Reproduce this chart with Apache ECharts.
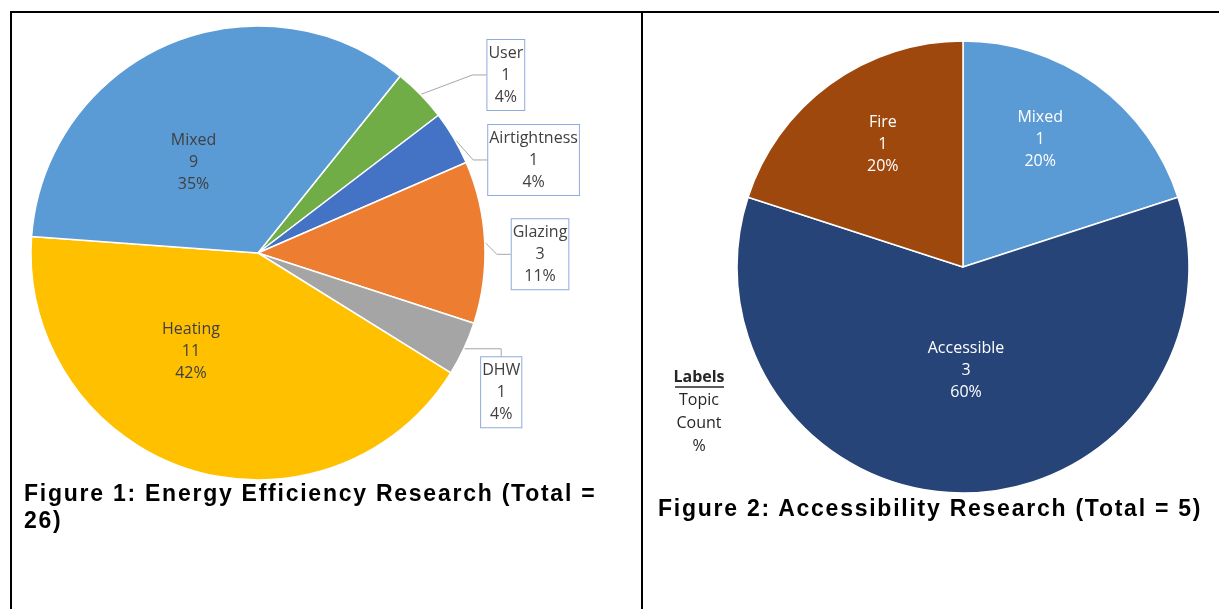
<!DOCTYPE html>
<html lang="en">
<head>
<meta charset="utf-8">
<style>
  body { margin: 0; background: #fff; width: 1219px; height: 609px; overflow: hidden; position: relative; }
  #container { position: absolute; left: 0; top: 0; width: 1219px; height: 609px; }
  .rule { position: absolute; background: #000; }
  .cap { position: absolute; font-family: "Liberation Sans", Arial, sans-serif; font-weight: bold;
         font-size: 23px; letter-spacing: 1.75px; line-height: 27px; color: #000; }
</style>
</head>
<body>
<div id="container"></div>
<div class="rule" style="left:10px; top:11px; width:1209px; height:2px"></div>
<div class="rule" style="left:10px; top:11px; width:2px; height:598px"></div>
<div class="rule" style="left:641px; top:11px; width:2px; height:598px"></div>
<div class="cap" style="left:24px; top:480px; width:610px">Figure 1: Energy Efficiency Research (Total = 26)</div>
<div class="cap" style="left:658px; top:495px; width:561px; white-space:nowrap">Figure 2: Accessibility Research (Total = 5)</div>
<script src="https://cdn.jsdelivr.net/npm/echarts@6/dist/echarts.min.js"></script>
<script>
// Figure 1: energy efficiency topics (clockwise from the User slice)
var energyTopics = ['User', 'Airtightness', 'Glazing', 'DHW', 'Heating', 'Mixed'];
var energyCounts = [1, 1, 3, 1, 11, 9];
var energyColors = ['#70AD47', '#4472C4', '#ED7D31', '#A5A5A5', '#FFC000', '#5B9BD5'];
var energyInside = ['Heating', 'Mixed'];

// Figure 2: accessibility topics (clockwise from 12 o'clock)
var accessTopics = ['Mixed', 'Accessible', 'Fire'];
var accessCounts = [1, 3, 1];
var accessColors = ['#5B9BD5', '#264478', '#9E480E'];

var legendLines = ['Labels', 'Topic', 'Count', '%'];

// label nudges (px) so the text sits where the original placed it
var energyNudge = {
  User: [36, -7], Airtightness: [-9, 4], Glazing: [-4, 13], DHW: [-17, 36],
  Heating: [-31, -12], Mixed: [-18, 16]
};
var accessNudge = { Mixed: [9, -34], Accessible: [3, -13], Fire: [-12, -29] };

var labelFont = '"Open Sans", "Noto Sans", sans-serif';

var chart = echarts.init(document.getElementById('container'), null, { renderer: 'canvas' });

function rich(color) {
  return { t: { align: 'center', fontFamily: labelFont, fontSize: 16, lineHeight: 22, color: color } };
}

var energyData = energyTopics.map(function (t, i) {
  var inside = energyInside.indexOf(t) >= 0;
  return {
    name: t,
    value: energyCounts[i],
    itemStyle: { color: energyColors[i] },
    label: inside ? {
      position: 'inside',
      backgroundColor: 'transparent',
      borderWidth: 0,
      padding: 0
    } : {},
    labelLine: { show: !inside }
  };
});

var accessData = accessTopics.map(function (t, i) {
  return { name: t, value: accessCounts[i], itemStyle: { color: accessColors[i] } };
});

var option = {
  animation: false,
  series: [
    {
      type: 'pie',
      center: [258, 253],
      radius: 227,
      startAngle: 51.2,
      percentPrecision: 0,
      itemStyle: { borderColor: '#fff', borderWidth: 1.5 },
      label: {
        position: 'outside',
        formatter: '{t|{b}}\n{t|{c}}\n{t|{d}%}',
        rich: rich('#404040'),
        fontFamily: labelFont,
        fontSize: 16,
        lineHeight: 22,
        color: '#404040',
        backgroundColor: '#fff',
        borderColor: '#8FAADC',
        borderWidth: 1,
        padding: [2, 1, 2, 1]
      },
      labelLine: {
        length: 18,
        length2: 14,
        lineStyle: { color: '#A6A6A6', width: 1 }
      },
      labelLayout: function (p) {
        var t = energyTopics[p.dataIndex];
        var n = energyNudge[t];
        if (energyInside.indexOf(t) >= 0) {
          return { dx: n[0], dy: n[1] };
        }
        // moving by x/y lets ECharts re-route the leader line to the box
        return {
          x: p.labelRect.x + n[0],
          y: p.labelRect.y + p.labelRect.height / 2 + n[1]
        };
      },
      emphasis: { disabled: true },
      data: energyData
    },
    {
      type: 'pie',
      center: [963, 267],
      radius: 226,
      startAngle: 90,
      percentPrecision: 0,
      itemStyle: { borderColor: '#fff', borderWidth: 1.5 },
      label: {
        position: 'inside',
        formatter: '{t|{b}}\n{t|{c}}\n{t|{d}%}',
        rich: rich('#fff'),
        fontFamily: labelFont,
        fontSize: 16,
        lineHeight: 22,
        color: '#fff'
      },
      labelLayout: function (p) {
        var n = accessNudge[accessTopics[p.dataIndex]];
        return { dx: n[0], dy: n[1] };
      },
      emphasis: { disabled: true },
      data: accessData
    }
  ],
  graphic: legendLines.map(function (s, i) {
    return {
      type: 'text',
      x: 699,
      y: 377 + i * 23,
      style: {
        text: s,
        align: 'center',
        verticalAlign: 'middle',
        font: (i === 0 ? 'bold ' : '') + '16px ' + labelFont,
        fill: '#262626'
      }
    };
  }).concat([{
    type: 'line',
    shape: { x1: 675, y1: 387, x2: 724, y2: 387 },
    style: { stroke: '#262626', lineWidth: 1.5 }
  }])
};

chart.setOption(option);
</script>
</body>
</html>
